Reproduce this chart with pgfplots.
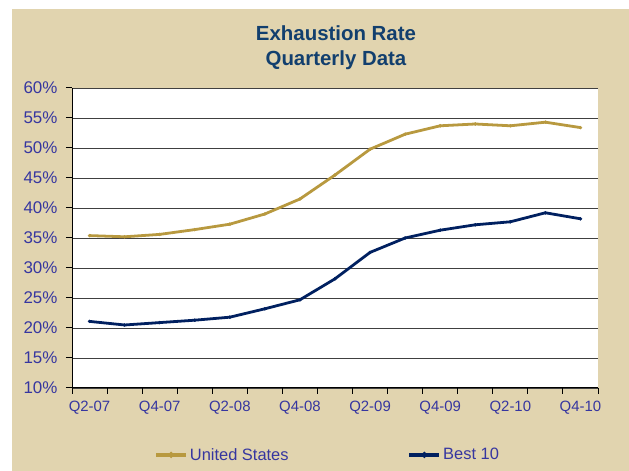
\documentclass[border=0pt]{standalone}
\usepackage{pgfplots}
\pgfplotsset{compat=1.18}
\usepackage{fontspec}
\setmainfont{Liberation Sans}
\definecolor{bgtan}{HTML}{E1D4AF}
\definecolor{titleblue}{HTML}{123F6E}
\definecolor{lblblue}{HTML}{3636A0}
\definecolor{usgold}{HTML}{B8993F}
\definecolor{navy}{HTML}{002060}
\begin{document}
\begin{tikzpicture}[x=1bp,y=1bp]
\useasboundingbox (0,0) rectangle (629,471);
\fill[bgtan] (12,0) rectangle (629,462);
\node[font=\fontsize{20.5}{24}\selectfont\bfseries, text=titleblue] at (336,438) {Exhaustion Rate};
\node[font=\fontsize{20.5}{24}\selectfont\bfseries, text=titleblue] at (336,411) {Quarterly Data};
\begin{axis}[
  at={(72bp,83bp)}, anchor=south west,
  scale only axis, width=526bp, height=300bp,
  xmin=-0.5, xmax=14.5, ymin=10, ymax=60,
  axis background/.style={fill=white},
  axis x line*=bottom, axis y line*=left,
  axis line style={black, line width=1pt, -},
  ytick={10,15,...,60},
  yticklabel={\pgfmathprintnumber{\tick}\%},
  /pgf/number format/assume math mode=true,
  yticklabel style={font=\fontsize{17}{19}\selectfont, text=lblblue, xshift=-5bp},
  ymajorgrids, major grid style={black!75, line width=0.9pt},
  xtick={-0.5,0.5,...,14.5}, xticklabels={},
  extra x ticks={0,2,4,6,8,10,12,14},
  extra x tick labels={Q2-07,Q4-07,Q2-08,Q4-08,Q2-09,Q4-09,Q2-10,Q4-10},
  extra x tick style={major tick length=0pt, grid=none,
     ticklabel style={font=\fontsize{15}{17}\selectfont, text=lblblue, yshift=-10bp}},
  tick align=outside, major tick length=6bp,
  tick style={black, line width=1pt},
  legend style={at={(0.486,-0.223)}, anchor=center, legend columns=2, draw=none, fill=none,
     font=\fontsize{16.5}{18}\selectfont, text=lblblue,
     /tikz/every even column/.append style={column sep=117bp}},
  legend image code/.code={
     \draw[#1, line width=3.6pt] (0bp,0bp) -- (30bp,0bp);
     \fill[#1] (15bp,0bp) circle[radius=1.4pt];},
  clip=false,
]
\addplot[usgold, line width=2.8pt, mark=*, mark size=1.6pt, mark options={line width=0.3pt}] coordinates {
(0,35.4) (1,35.2) (2,35.6) (3,36.4) (4,37.3) (5,39.0) (6,41.5) (7,45.5)
(8,49.8) (9,52.3) (10,53.7) (11,54.0) (12,53.7) (13,54.3) (14,53.4)};
\addlegendentry{United States}
\addplot[navy, line width=2.8pt, mark=*, mark size=1.6pt, mark options={line width=0.3pt}] coordinates {
(0,21.1) (1,20.5) (2,20.9) (3,21.3) (4,21.8) (5,23.2) (6,24.7) (7,28.2)
(8,32.6) (9,35.0) (10,36.3) (11,37.2) (12,37.7) (13,39.2) (14,38.2)};
\addlegendentry{Best 10}
\end{axis}
\end{tikzpicture}
\end{document}
